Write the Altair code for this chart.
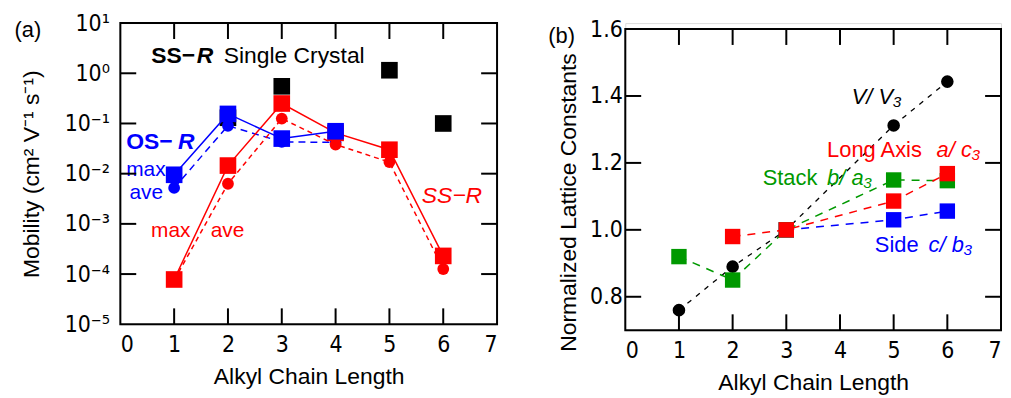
import altair as alt
import pandas as pd

# ---------------- data ----------------
x_tick_values = [0, 1, 2, 3, 4, 5, 6, 7]
inner_x_ticks = [1, 2, 3, 4, 5, 6]

# Panel (a): mobility vs alkyl chain length
ss_chain = [1, 2, 3, 4, 5, 6]
ss_max = [7.8e-5, 0.0145, 0.25, 0.065, 0.030, 2.3e-4]
ss_ave = [7.5e-5, 0.0063, 0.125, 0.038, 0.017, 1.26e-4]
os_chain = [1, 2, 3, 4]
os_max = [0.0095, 0.155, 0.050, 0.070]
os_ave = [0.0052, 0.090, 0.043, 0.042]
sc_chain = [2, 3, 5, 6]
sc_vals = [0.13, 0.55, 1.15, 0.10]
y_ticks_a = [1e-5, 1e-4, 1e-3, 1e-2, 1e-1, 1, 10]
y_tick_labels_a = ["10⁻⁵", "10⁻⁴", "10⁻³", "10⁻²", "10⁻¹", "10⁰", "10¹"]
inner_y_ticks_a = [1e-4, 1e-3, 1e-2, 1e-1, 1]

# Panel (b): normalized lattice constants
v_chain = [1, 2, 3, 5, 6]
v_vals = [0.76, 0.89, 1.0, 1.312, 1.443]
a_chain = [2, 3, 5, 6]
a_vals = [0.98, 1.0, 1.086, 1.168]
b_chain = [1, 2, 3, 5, 6]
b_vals = [0.92, 0.85, 1.0, 1.149, 1.147]
c_chain = [3, 5, 6]
c_vals = [1.0, 1.030, 1.056]
y_ticks_b = [0.8, 1.0, 1.2, 1.4, 1.6]
inner_y_ticks_b = [0.8, 1.0, 1.2, 1.4]

# annotations: text, x, y, color, weight, style, size
ann_a = [
    ("SS−", 0.573, 2.22, "black", "bold", "normal", 23),
    ("R", 1.42, 2.22, "black", "bold", "italic", 23),
    ("Single Crystal", 1.92, 2.22, "black", "normal", "normal", 23),
    ("OS−", 0.11, 0.042, "blue", "bold", "normal", 23),
    ("R", 1.07, 0.042, "blue", "bold", "italic", 23),
    ("max", 0.11, 0.0117, "blue", "normal", "normal", 21),
    ("ave", 0.17, 0.0041, "blue", "normal", "normal", 21),
    ("max", 0.57, 7.3e-4, "red", "normal", "normal", 21),
    ("ave", 1.68, 7.3e-4, "red", "normal", "normal", 21),
    ("SS−R", 5.60, 0.00358, "red", "normal", "italic", 23),
]
ann_b = [
    ("V/ V₃", 4.22, 1.398, "black", "normal", "italic", 22),
    ("Long Axis", 3.76, 1.238, "red", "normal", "normal", 22),
    ("a/ c₃", 5.80, 1.238, "red", "normal", "italic", 22),
    ("Stack", 2.56, 1.155, "#009900", "normal", "normal", 22),
    ("b/ a₃", 3.76, 1.155, "#009900", "normal", "italic", 22),
    ("Side", 4.65, 0.956, "blue", "normal", "normal", 22),
    ("c/ b₃", 5.65, 0.956, "blue", "normal", "italic", 22),
]

# ---------------- styling ----------------
TXT = "Liberation Sans, Arial, sans-serif"
NUM = "Liberation Sans Narrow, Arial Narrow, DejaVu Sans Condensed, Liberation Sans, sans-serif"
WA, HA = 379, 303
WB, HB, TOPB = 378, 309, 6
TICK = 16

xscale = alt.Scale(domain=[0, 7], nice=False, zero=False)
yscale_a = alt.Scale(type="log", domain=[1e-5, 10], nice=False)
yscale_b = alt.Scale(domain=[0.7, 1.6], nice=False, zero=False, range=[HB, TOPB])

common_axis = dict(domain=False, ticks=False, grid=False, labelFont=NUM, labelFontSize=23,
                   labelColor="black", titleFont=TXT, titleFontSize=23, titleColor="black",
                   titleFontWeight="normal")
xaxis = alt.Axis(values=x_tick_values, format="d", title="Alkyl Chain Length",
                 labelPadding=9, titlePadding=10, **common_axis)
label_expr_a = "[" + ",".join("'%s'" % s for s in y_tick_labels_a) + "][round(log(datum.value)/LN10)+5]"
yaxis_a = alt.Axis(values=y_ticks_a, labelExpr=label_expr_a, title="Mobility (cm² V⁻¹ s⁻¹)",
                   labelPadding=11, titlePadding=21, **common_axis)
yaxis_b = alt.Axis(values=y_ticks_b, format=".1f", title="Normalized Lattice Constants",
                   labelPadding=3, titlePadding=9, titleY=180, **common_axis)


def X():
    return alt.X("x:Q", scale=xscale, axis=xaxis)


def YA():
    return alt.Y("y:Q", scale=yscale_a, axis=yaxis_a)


def YB():
    return alt.Y("y:Q", scale=yscale_b, axis=yaxis_b)


def df(xs, ys):
    return pd.DataFrame({"x": xs, "y": ys})


def series(xs, ys, Y, color, shape, size, dash=None, line=True, sw=1.5):
    d = df(xs, ys)
    layers = []
    if line:
        kw = dict(color=color, strokeWidth=sw)
        if dash:
            kw["strokeDash"] = dash
        layers.append(alt.Chart(d).mark_line(**kw).encode(x=X(), y=Y()))
    layers.append(alt.Chart(d).mark_point(shape=shape, filled=True, color=color, size=size,
                                          opacity=1).encode(x=X(), y=Y()))
    return layers


def annotations(items, Y):
    layers = []
    for t, x, y, c, w, s, fs in items:
        d = pd.DataFrame({"x": [x], "y": [y], "t": [t]})
        layers.append(alt.Chart(d).mark_text(align="left", baseline="middle", color=c,
                                             fontWeight=w, fontStyle=s, fontSize=fs, font=TXT)
                      .encode(x=X(), y=Y(), text="t:N"))
    return layers


def frame_and_ticks(W, H, top, y_inner, Y):
    one = pd.DataFrame({"d": [0]})
    frame = alt.Chart(one).mark_rect(fillOpacity=0, stroke="black", strokeWidth=2).encode(
        x=alt.value(0), x2=alt.value(W), y=alt.value(top), y2=alt.value(H))
    dx = pd.DataFrame({"x": inner_x_ticks})
    dy = pd.DataFrame({"y": y_inner})
    rk = dict(color="black", strokeWidth=2)
    tb = alt.Chart(dx).mark_rule(**rk).encode(x=X(), y=alt.value(H), y2=alt.value(H - TICK))
    tt = alt.Chart(dx).mark_rule(**rk).encode(x=X(), y=alt.value(top), y2=alt.value(top + TICK))
    tl = alt.Chart(dy).mark_rule(**rk).encode(y=Y(), x=alt.value(0), x2=alt.value(TICK))
    tr = alt.Chart(dy).mark_rule(**rk).encode(y=Y(), x=alt.value(W), x2=alt.value(W - TICK))
    return [tb, tt, tl, tr, frame]


def panel_label(text, px, py):
    d = pd.DataFrame({"t": [text]})
    return alt.Chart(d).mark_text(align="center", baseline="middle", fontSize=22, font=TXT,
                                  color="black").encode(x=alt.value(px), y=alt.value(py), text="t:N")


# ---------------- panel (a) ----------------
layers_a = []
layers_a += series(sc_chain, sc_vals, YA, "black", "square", 280, line=False)
layers_a += series(os_chain, os_ave, YA, "blue", "circle", 140, dash=[7, 5])
layers_a += series(ss_chain, ss_ave, YA, "red", "circle", 140, dash=[5, 4])
layers_a += series(ss_chain, ss_max, YA, "red", "square", 280)
layers_a += series(os_chain, os_max, YA, "blue", "square", 280)
layers_a += annotations(ann_a, YA)
layers_a += frame_and_ticks(WA, HA, 0, inner_y_ticks_a, YA)
layers_a.append(panel_label("(a)", -93, 7))
chart_a = alt.layer(*layers_a).properties(width=WA, height=HA)

# ---------------- panel (b) ----------------
layers_b = []
layers_b += series(v_chain, v_vals, YB, "black", "circle", 160, dash=[5, 6], sw=1.3)
layers_b += series(c_chain, c_vals, YB, "blue", "square", 240, dash=[8, 7])
layers_b += series(b_chain, b_vals, YB, "#009900", "square", 240, dash=[8, 7])
layers_b += series(a_chain, a_vals, YB, "red", "square", 240, dash=[8, 7])
layers_b += annotations(ann_b, YB)
layers_b += frame_and_ticks(WB, HB, TOPB, inner_y_ticks_b, YB)
layers_b.append(panel_label("(b)", -64, 13))
chart_b = alt.layer(*layers_b).properties(width=WB, height=HB)

chart = alt.hconcat(chart_a, chart_b, spacing=129, bounds="flush").properties(
    padding={"left": 6, "top": 2, "right": 0, "bottom": 0}
).configure_view(stroke=None).configure(background="white")

chart.save("out.html", embed_options={"renderer": "svg", "actions": False})
